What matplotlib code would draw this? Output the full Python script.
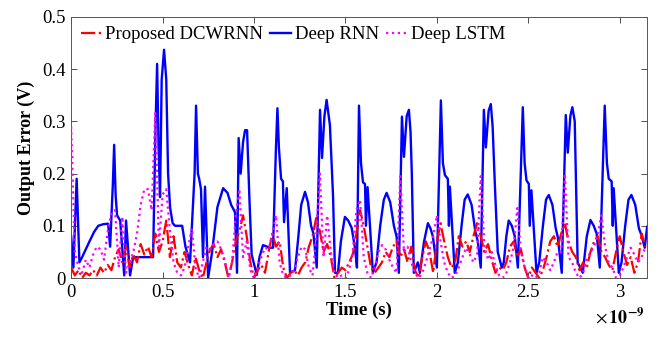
import matplotlib
matplotlib.use("Agg")
import matplotlib.pyplot as plt
import numpy as np
from matplotlib.ticker import FuncFormatter

plt.rcParams['font.family'] = ['Liberation Serif', 'DejaVu Serif']
plt.rcParams['mathtext.fontset'] = 'stix'

# time axis in ns (scaled to seconds when plotted)
t_max = 3.15
x_ticks = [0, 0.5, 1, 1.5, 2, 2.5, 3]
y_ticks = [0, 0.1, 0.2, 0.3, 0.4, 0.5]

# Deep RNN: breakpoints (t in ns, error in V)
rnn_t = [0.0, 0.006, 0.012, 0.03, 0.045, 0.06, 0.08, 0.10, 0.125, 0.148, 0.175, 0.202, 0.213,
         0.228, 0.235, 0.243, 0.251, 0.268, 0.29, 0.30, 0.322, 0.339, 0.448, 0.462, 0.47,
         0.478, 0.486, 0.495, 0.508, 0.52, 0.53, 0.541, 0.555, 0.568, 0.607, 0.625, 0.65,
         0.675, 0.683, 0.693, 0.70, 0.71, 0.721, 0.732, 0.749,
         0.77, 0.80, 0.831, 0.855, 0.875, 0.896, 0.907, 0.916, 0.927, 0.94, 0.951, 0.962,
         0.975, 0.987, 1.015, 1.03, 1.049, 1.087, 1.104, 1.12, 1.128, 1.136, 1.148, 1.158,
         1.164, 1.179, 1.197,
         1.224, 1.24, 1.258, 1.279, 1.295, 1.312, 1.325, 1.343, 1.361, 1.372, 1.385, 1.397,
         1.415, 1.432, 1.443, 1.459, 1.475, 1.497, 1.515, 1.534, 1.552, 1.563, 1.574, 1.585,
         1.596, 1.607, 1.612, 1.621, 1.65, 1.67, 1.69, 1.71, 1.725, 1.745, 1.765, 1.78, 1.792,
         1.809, 1.82, 1.835, 1.847, 1.856, 1.863, 1.874, 1.896, 1.907, 1.93, 1.951, 1.965,
         1.978, 2.0, 2.022, 2.033, 2.044, 2.06, 2.066, 2.071, 2.098, 2.115, 2.135, 2.152,
         2.169, 2.19, 2.21, 2.224, 2.24, 2.257, 2.268, 2.283, 2.295, 2.305, 2.317, 2.333,
         2.355, 2.366, 2.38, 2.393, 2.41, 2.426, 2.443, 2.47, 2.48, 2.49, 2.503, 2.508, 2.517,
         2.545, 2.56, 2.58, 2.597, 2.612, 2.632, 2.65, 2.661, 2.683, 2.705, 2.716, 2.73,
         2.741, 2.754, 2.77, 2.798, 2.82, 2.84, 2.858, 2.874, 2.891, 2.918, 2.93, 2.94, 2.956,
         2.962, 2.967, 2.995, 3.01, 3.03, 3.048, 3.064, 3.085, 3.105, 3.119, 3.137, 3.15]
rnn_v = [0.08, 0.05, 0.02, 0.19, 0.03, 0.04, 0.055, 0.07, 0.088, 0.10, 0.103, 0.104, 0.06,
         0.18, 0.255, 0.16, 0.12, 0.11, 0.005, 0.11, 0.005, 0.04, 0.04, 0.30, 0.41,
         0.25, 0.155, 0.38, 0.437, 0.38, 0.20, 0.135, 0.105, 0.10, 0.10, 0.06, 0.03,
         0.20, 0.33, 0.20, 0.19, 0.17, 0.04, 0.175, 0.0,
         0.048, 0.136, 0.172, 0.163, 0.14, 0.126, 0.01, 0.268, 0.20, 0.26, 0.283, 0.283,
         0.15, 0.045, 0.006, 0.04, 0.063, 0.058, 0.058, 0.25, 0.325, 0.25, 0.19, 0.185,
         0.107, 0.172, 0.01,
         0.015, 0.07, 0.14, 0.165, 0.145, 0.10, 0.085, 0.02, 0.322, 0.23, 0.31, 0.341,
         0.293, 0.159, 0.01, 0.01, 0.07, 0.117, 0.11, 0.096, 0.058, 0.02, 0.33, 0.22,
         0.183, 0.18, 0.10, 0.174, 0.01, 0.03, 0.10, 0.15, 0.163, 0.145, 0.10, 0.079, 0.01,
         0.309, 0.232, 0.31, 0.322, 0.28, 0.20, 0.01, 0.03, 0.01, 0.07, 0.105, 0.095,
         0.08, 0.02, 0.34, 0.22, 0.197, 0.19, 0.10, 0.175, 0.01, 0.03, 0.10, 0.15,
         0.16, 0.14, 0.09, 0.07, 0.02, 0.322, 0.25, 0.32, 0.333, 0.29, 0.18, 0.05,
         0.02, 0.03, 0.08, 0.11, 0.10, 0.08, 0.02, 0.327, 0.22, 0.187, 0.18, 0.10, 0.168,
         0.01, 0.03, 0.10, 0.15, 0.159, 0.14, 0.095, 0.079, 0.01, 0.312, 0.24, 0.31,
         0.327, 0.30, 0.03, 0.01, 0.08, 0.111, 0.10, 0.085, 0.02, 0.33, 0.22, 0.19, 0.185,
         0.10, 0.172, 0.01, 0.03, 0.10, 0.15, 0.159, 0.14, 0.095, 0.082, 0.058, 0.098]

# Proposed DCWRNN and Deep LSTM: read every 0.02 ns from t = 0 to 3.14 ns
dcw_v = [0.02, 0.005, 0.015, 0.0, 0.01, 0.005, 0.015, 0.005, 0.02, 0.01,
         0.025, 0.015, 0.04, 0.055, 0.03, 0.06, 0.02, 0.045, 0.03, 0.065,
         0.045, 0.06, 0.04, 0.085, 0.05, 0.07, 0.11, 0.04, 0.08, 0.03,
         0.02, 0.05, 0.025, 0.005, 0.04, 0.015, 0.0, 0.03, 0.055, 0.065,
         0.04, 0.055, 0.03, 0.0, 0.03, 0.07, 0.09, 0.12, 0.08, 0.03,
         0.0, 0.015, 0.025, 0.01, 0.05, 0.085, 0.06, 0.07, 0.02, 0.0,
         0.01, 0.015, 0.005, 0.02, 0.03, 0.06, 0.08, 0.115, 0.09, 0.05,
         0.065, 0.04, 0.0, 0.01, 0.02, 0.015, 0.03, 0.045, 0.085, 0.13,
         0.10, 0.06, 0.02, 0.01, 0.02, 0.03, 0.05, 0.04, 0.06, 0.07,
         0.04, 0.055, 0.03, 0.06, 0.015, 0.0, 0.04, 0.07, 0.05, 0.01,
         0.07, 0.105, 0.07, 0.04, 0.02, 0.03, 0.08, 0.06, 0.07, 0.05,
         0.08, 0.105, 0.08, 0.05, 0.065, 0.035, 0.01, 0.02, 0.015, 0.03,
         0.06, 0.07, 0.04, 0.055, 0.02, 0.0, 0.02, 0.01, 0.0, 0.015,
         0.04, 0.07, 0.08, 0.06, 0.085, 0.105, 0.07, 0.05, 0.04, 0.015,
         0.03, 0.02, 0.05, 0.07, 0.08, 0.05, 0.04, 0.025, 0.015, 0.05,
         0.08, 0.05, 0.025, 0.04, 0.01, 0.03, 0.085, 0.06]
lstm_v = [0.29, 0.05, 0.02, 0.01, 0.035, 0.02, 0.045, 0.06, 0.055, 0.035,
          0.09, 0.125, 0.13, 0.02, 0.117, 0.01, 0.03, 0.05, 0.085, 0.14,
          0.17, 0.17, 0.13, 0.316, 0.06, 0.16, 0.17, 0.09, 0.03, 0.01,
          0.005, 0.02, 0.06, 0.095, 0.02, 0.0, 0.03, 0.06, 0.055, 0.065,
          0.07, 0.055, 0.035, 0.0, 0.03, 0.12, 0.17, 0.04, 0.07, 0.015,
          0.0, 0.02, 0.04, 0.058, 0.055, 0.085, 0.12, 0.03, 0.005, 0.0,
          0.005, 0.015, 0.04, 0.06, 0.055, 0.02, 0.005, 0.08, 0.20, 0.04,
          0.12, 0.05, 0.01, 0.0, 0.005, 0.0, 0.015, 0.05, 0.13, 0.15,
          0.04, 0.01, 0.0, 0.02, 0.05, 0.063, 0.055, 0.035, 0.02, 0.01,
          0.195, 0.05, 0.06, 0.03, 0.01, 0.0, 0.01, 0.03, 0.055, 0.08,
          0.12, 0.07, 0.03, 0.01, 0.0, 0.005, 0.02, 0.04, 0.058, 0.045,
          0.03, 0.045, 0.195, 0.06, 0.035, 0.05, 0.025, 0.005, 0.0, 0.01,
          0.03, 0.06, 0.134, 0.05, 0.02, 0.0, 0.005, 0.0, 0.01, 0.04,
          0.03, 0.015, 0.03, 0.05, 0.05, 0.20, 0.04, 0.03, 0.01, 0.0,
          0.01, 0.035, 0.05, 0.06, 0.085, 0.12, 0.06, 0.03, 0.02, 0.0,
          0.005, 0.02, 0.04, 0.058, 0.045, 0.03, 0.04, 0.06]
grid_t = np.arange(len(dcw_v)) * 0.02

fig, ax = plt.subplots(figsize=(6.59, 3.37), dpi=100)
fig.subplots_adjust(left=0.108, right=0.982, top=0.95, bottom=0.175)

ax.plot(grid_t * 1e-9, dcw_v, color=(1, 0, 0), lw=1.6, ls='-.', label='Proposed DCWRNN', zorder=3)
ax.plot(np.array(rnn_t) * 1e-9, rnn_v, color=(0, 0, 1), lw=1.7, ls='-', label='Deep RNN', zorder=2)
ax.plot(grid_t * 1e-9, lstm_v, color=(1, 0, 1), lw=1.6, ls=':', label='Deep LSTM', zorder=4)

ax.set_xlim(0, t_max * 1e-9)
ax.set_ylim(0, 0.5)
ax.set_xticks(np.array(x_ticks) * 1e-9)
ax.set_yticks(y_ticks)
ax.xaxis.set_major_formatter(FuncFormatter(lambda v, p: f"{v * 1e9:g}"))
ax.yaxis.set_major_formatter(FuncFormatter(lambda v, p: f"{v:g}"))
ax.tick_params(direction='in', top=True, right=True, labelsize=13.5, length=4,
               width=0.6, colors='#333333', labelcolor='black', pad=4)
for sp in ax.spines.values():
    sp.set_color('#555555')
    sp.set_linewidth(0.7)

ax.set_xlabel('Time (s)', fontsize=13.5, fontweight='bold', labelpad=1)
ax.set_ylabel('Output Error (V)', fontsize=13, fontweight='bold', labelpad=5)
fig.text(0.903, 0.027, r'$\times\,\mathbf{10^{-9}}$', fontsize=13, ha='left', va='bottom')

ax.legend(loc='upper left', ncol=3, frameon=False, fontsize=13.5, handlelength=1.1,
          handletextpad=0.2, columnspacing=0.4, borderaxespad=0.3, borderpad=0.2,
          bbox_to_anchor=(0.0, 1.0))

fig.savefig('out.png', dpi=100)
